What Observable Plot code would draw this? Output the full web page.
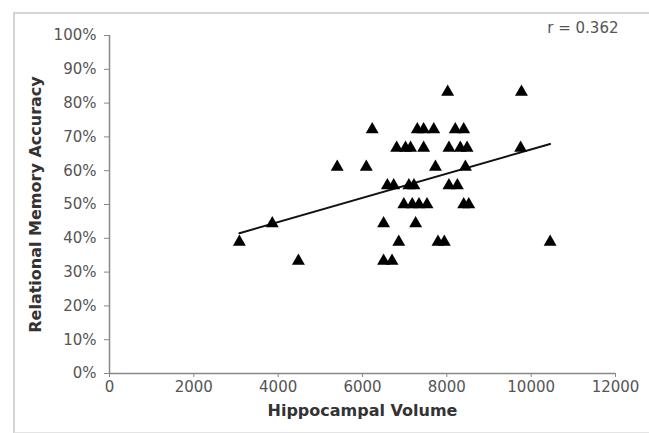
<!DOCTYPE html>
<html>
<head>
<meta charset="utf-8">
<script src="https://cdn.jsdelivr.net/npm/d3@7"></script>
<script src="https://cdn.jsdelivr.net/npm/@observablehq/plot@0.6"></script>
<style>
  html, body { margin: 0; padding: 0; background: #fff; }
  #wrap { position: relative; width: 649px; height: 433px; overflow: hidden; }
  #frame { position: absolute; left: 13px; top: 12px; width: 700px; height: 418px;
           border-top: 2px solid #d4d4d4; border-left: 2px solid #d4d4d4; border-bottom: 2px solid #e4e4e4; }
  #chart { position: absolute; left: 0; top: 0; }
</style>
</head>
<body>
<div id="wrap"><div id="frame"></div><div id="chart"></div></div>
<script>
// Hippocampal volume (x) and relational memory accuracy in % (y)
const volume = [
  3080, 3860, 4480, 5400, 6090, 6230, 6500, 6500, 6700, 6590,
  6740, 6860, 6810, 7020, 7140, 7450, 7300, 7450, 7690, 8200,
  8400, 8020, 8050, 8320, 8480, 7730, 8440, 7100, 7220, 8050,
  8250, 6980, 7180, 7340, 7530, 8400, 8520, 7260, 7790, 7940,
  9770, 9750, 10450
];
const accuracy = [
  38.9, 44.4, 33.3, 61.1, 61.1, 72.2, 44.4, 33.3, 33.3, 55.6,
  55.6, 38.9, 66.7, 66.7, 66.7, 66.7, 72.2, 72.2, 72.2, 72.2,
  72.2, 83.3, 66.7, 66.7, 66.7, 61.1, 61.1, 55.6, 55.6, 55.6,
  55.6, 50.0, 50.0, 50.0, 50.0, 50.0, 50.0, 44.4, 38.9, 38.9,
  83.3, 66.7, 38.9
];
const xTicks = [0, 2000, 4000, 6000, 8000, 10000, 12000];
const yTicks = [0, 10, 20, 30, 40, 50, 60, 70, 80, 90, 100];
const xTitle = "Hippocampal Volume";
const yTitle = "Relational Memory Accuracy";
const rLabel = "r = 0.362";

const data = volume.map((v, i) => ({volume: v, accuracy: accuracy[i]}));

const chart = Plot.plot({
  width: 649,
  height: 433,
  marginLeft: 109,
  marginRight: 34,
  marginTop: 35,
  marginBottom: 60,
  style: {fontFamily: "DejaVu Sans, Verdana, sans-serif", fontSize: "15px", background: "transparent"},
  x: {domain: [0, 12000], ticks: xTicks, label: null},
  y: {domain: [0, 100], ticks: yTicks, label: null},
  marks: [
    Plot.axisX({ticks: xTicks, tickFormat: d3.format("d"), tickSize: 4, tickPadding: 4, color: "#555", stroke: "#888", label: null}),
    Plot.axisY({ticks: yTicks, tickFormat: d => d + "%", tickSize: 5, tickPadding: 8, color: "#555", stroke: "#888", label: null}),
    Plot.ruleX([0], {stroke: "#888", strokeWidth: 1.5}),
    Plot.ruleY([0], {stroke: "#888", strokeWidth: 1.5}),
    Plot.linearRegressionY(data, {x: "volume", y: "accuracy", ci: 0, stroke: "#111", strokeWidth: 2}),
    Plot.dot(data, {x: "volume", y: "accuracy", symbol: "triangle", r: 4.8, fill: "#000", stroke: "none"}),
    Plot.text([xTitle], {frameAnchor: "bottom", dy: 42, fontWeight: "bold", fontSize: 16, fill: "#333"}),
    Plot.text([yTitle], {frameAnchor: "left", textAnchor: "middle", dx: -74, rotate: -90, fontWeight: "bold", fontSize: 16, fill: "#333"}),
    Plot.text([rLabel], {frameAnchor: "top-right", textAnchor: "end", lineAnchor: "middle", dx: 3, dy: -7, fontSize: 15, fill: "#555"})
  ]
});
document.getElementById("chart").appendChild(chart);
</script>
</body>
</html>
